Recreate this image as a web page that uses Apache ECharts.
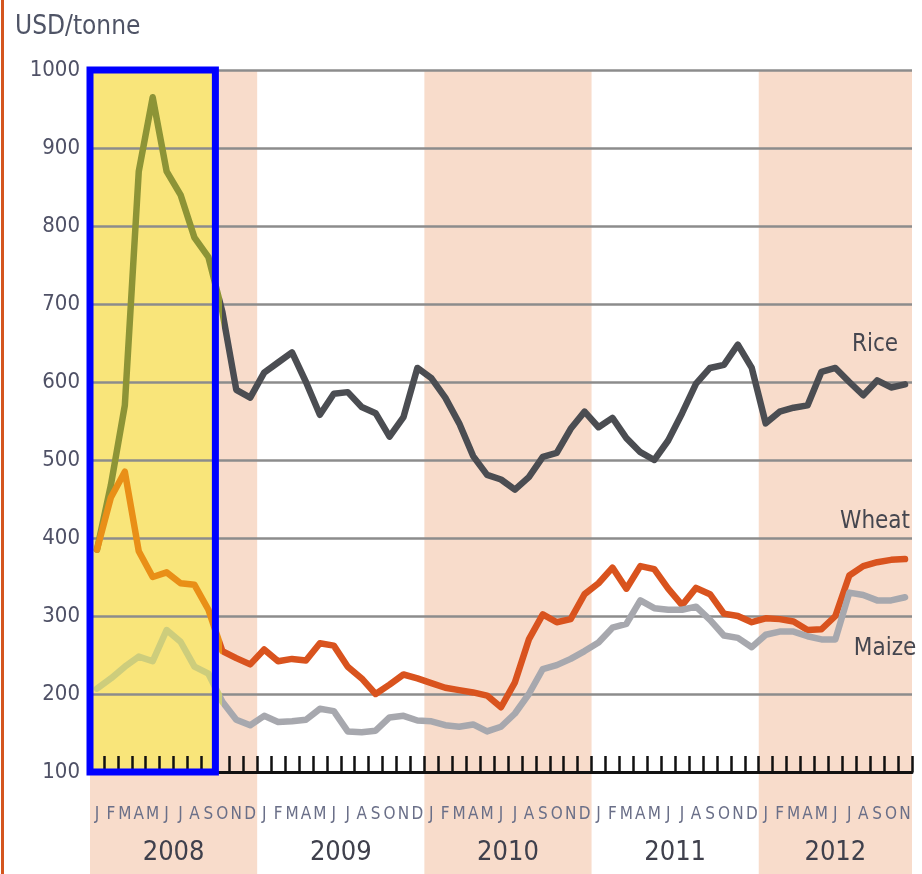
<!DOCTYPE html>
<html>
<head>
<meta charset="utf-8">
<script src="https://cdn.jsdelivr.net/npm/echarts@6/dist/echarts.min.js"></script>
<style>
    html, body { margin: 0; padding: 0; background: #fff; }
    #chart { width: 922px; height: 874px; }
    #edge { position: absolute; left: 1px; top: 0; width: 3px; height: 874px; background: #d4561f; z-index: 5; }
</style>
</head>
<body>
<div id="edge"></div>
<div id="chart"></div>
<script>
// tick labels
const YEARS = ['2008', '2009', '2010', '2011', '2012']
const MONTH_INITIALS = ['J', 'F', 'M', 'A', 'M', 'J', 'J', 'A', 'S', 'O', 'N', 'D']
const LAST_YEAR_MONTHS = 11   // series stop in Nov 2012
const HIGHLIGHT_MONTHS = 9    // Jan - Sep 2008 boxed

// categories: one per month
const MONTHS = []
YEARS.forEach((y, i) => {
    const n = i === YEARS.length - 1 ? LAST_YEAR_MONTHS : 12
    for (let m = 1; m <= n; m++) MONTHS.push(y + '-' + (m < 10 ? '0' + m : m))
})

// USD/tonne, monthly
const RICE = [385, 468, 570, 870, 965, 870, 840, 785, 760, 690, 590, 580,
    612, 625, 638, 600, 558, 585, 587, 568, 560, 530, 555, 618,
    605, 580, 547, 505, 481, 475, 462, 478, 504, 509, 540, 562,
    542, 554, 528, 510, 500, 525, 560, 598, 618, 622, 648, 618,
    547, 562, 567, 570, 613, 618, 600, 583, 602, 593, 597]
const WHEAT = [385, 452, 485, 383, 350, 356, 342, 340, 308, 255, 246, 238,
    257, 242, 245, 243, 265, 262, 235, 220, 200, 212, 225, 220,
    214, 208, 205, 202, 198, 183, 215, 270, 302, 292, 296, 328,
    342, 362, 335, 364, 360, 335, 314, 336, 328, 303, 300, 292,
    297, 296, 293, 282, 283, 300, 352, 364, 369, 372, 373]
const MAIZE = [207, 220, 235, 248, 242, 282, 267, 235, 226, 190, 167, 160,
    172, 164, 165, 167, 181, 178, 152, 151, 153, 170, 172, 166,
    165, 160, 158, 161, 152, 158, 175, 200, 232, 237, 245, 255,
    266, 285, 290, 320, 310, 308, 308, 312, 295, 275, 272, 260,
    276, 280, 280, 274, 270, 270, 330, 327, 320, 320, 324]

const FONT = "'DejaVu Sans Condensed', 'DejaVu Sans', sans-serif"

const crops = [
    {name: 'Rice', data: RICE, color: '#4b4d52', tint: '#8d9436', offset: [-30, -40]},
    {name: 'Wheat', data: WHEAT, color: '#d9531e', tint: '#e98f17', offset: [-30, -37]},
    {name: 'Maize', data: MAIZE, color: '#a7a8ae', tint: '#cdcd7c', offset: [-20, 51]},
]

// alternate shaded years (2008, 2010, 2012)
const bandAreas = []
YEARS.forEach((y, i) => {
    if (i % 2 === 0) {
        bandAreas.push([{xAxis: i * 12}, {xAxis: Math.min((i + 1) * 12, MONTHS.length)}])
    }
})

let chart = echarts.init(document.getElementById('chart'))

let lineSeries = crops.map(c => ({
    name: c.name,
    type: 'line',
    xAxisIndex: 0,
    yAxisIndex: 0,
    data: c.data,
    showSymbol: false,
    symbol: 'none',
    z: 3,
    lineStyle: {width: 6.5, cap: 'round', join: 'round'},
    markPoint: {
        symbol: 'circle',
        symbolSize: 1,
        itemStyle: {color: 'rgba(0,0,0,0)'},
        label: {
            show: true,
            position: 'inside',
            offset: c.offset,
            formatter: c.name,
            color: '#45464f',
            fontSize: 24,
            fontFamily: FONT
        },
        data: [{coord: [MONTHS[MONTHS.length - 1], c.data[c.data.length - 1]]}]
    }
}))

let option = {
    animation: false,
    title: {
        text: 'USD/tonne',
        left: 10,
        top: 9,
        textStyle: {fontSize: 26, fontWeight: 'normal', color: '#4f5466', fontFamily: FONT}
    },
    grid: [
        {left: 90, right: 10, top: 70, bottom: 102, outerBoundsMode: 'none'},
        {left: 90, right: 10, top: 70, bottom: 0, outerBoundsMode: 'none'}
    ],
    xAxis: [
        {
            type: 'category',
            gridIndex: 0,
            data: MONTHS,
            boundaryGap: true,
            position: 'bottom',
            z: 1,
            axisLine: {lineStyle: {color: '#111', width: 3}},
            axisTick: {
                show: true,
                inside: true,
                length: 16,
                interval: 0,
                lineStyle: {color: '#111', width: 2.5}
            },
            axisLabel: {
                interval: 0,
                margin: 34,
                fontSize: 17,
                fontFamily: FONT,
                color: '#6a6f88',
                formatter: function (value, index) {
                    return MONTH_INITIALS[index % 12]
                }
            },
            splitLine: {show: false}
        },
        {
            type: 'value',
            gridIndex: 1,
            min: 0,
            max: MONTHS.length,
            show: false
        },
        {
            type: 'value',
            gridIndex: 0,
            min: 0,
            max: MONTHS.length,
            position: 'bottom',
            axisLine: {show: false},
            axisTick: {show: false},
            splitLine: {show: false},
            axisLabel: {
                customValues: YEARS.map((y, i) => i === YEARS.length - 1 ? i * 12 + LAST_YEAR_MONTHS / 2 : i * 12 + 6),
                margin: 67,
                fontSize: 27,
                fontFamily: FONT,
                color: '#3f404c',
                formatter: function (value) {
                    return YEARS[Math.floor(value / 12)]
                }
            }
        }
    ],
    yAxis: [
        {
            type: 'value',
            gridIndex: 0,
            min: 100,
            max: 1000,
            interval: 100,
            axisLine: {show: false},
            axisTick: {show: false},
            axisLabel: {
                margin: 10, fontSize: 22, fontFamily: FONT, color: '#4f5166',
                formatter: function (value) {
                    return String(value)
                }
            },
            splitLine: {lineStyle: {color: '#8c8c8c', width: 2.5}}
        },
        {
            type: 'value',
            gridIndex: 1,
            min: 0,
            max: 1,
            show: false
        }
    ],
    visualMap: crops.map((c, i) => ({
        type: 'piecewise',
        show: false,
        seriesIndex: i,
        dimension: 0,
        pieces: [
            {gte: -1, lt: HIGHLIGHT_MONTHS - 0.5, color: c.tint},
            {gte: HIGHLIGHT_MONTHS - 0.5, lte: MONTHS.length + 1, color: c.color}
        ]
    })),
    series: [
        ...lineSeries,
        {
            // year shading
            type: 'line',
            xAxisIndex: 1,
            yAxisIndex: 1,
            data: [],
            silent: true,
            markArea: {
                z: -2,
                silent: true,
                itemStyle: {color: '#f8dccb'},
                data: bandAreas
            }
        },
        {
            // highlight fill
            type: 'line',
            xAxisIndex: 2,
            yAxisIndex: 0,
            data: [],
            silent: true,
            markArea: {
                z: -1,
                silent: true,
                itemStyle: {color: '#f9e57a'},
                data: [[{xAxis: 0, yAxis: 100}, {xAxis: HIGHLIGHT_MONTHS, yAxis: 1000}]]
            }
        },
        {
            // highlight border
            type: 'line',
            xAxisIndex: 2,
            yAxisIndex: 0,
            data: [],
            silent: true,
            markArea: {
                z: 10,
                silent: true,
                itemStyle: {color: 'rgba(0,0,0,0)', borderColor: '#0000ff', borderWidth: 7},
                data: [[{xAxis: 0, yAxis: 100}, {xAxis: HIGHLIGHT_MONTHS, yAxis: 1000}]]
            }
        }
    ]
}

chart.setOption(option)
</script>
</body>
</html>
